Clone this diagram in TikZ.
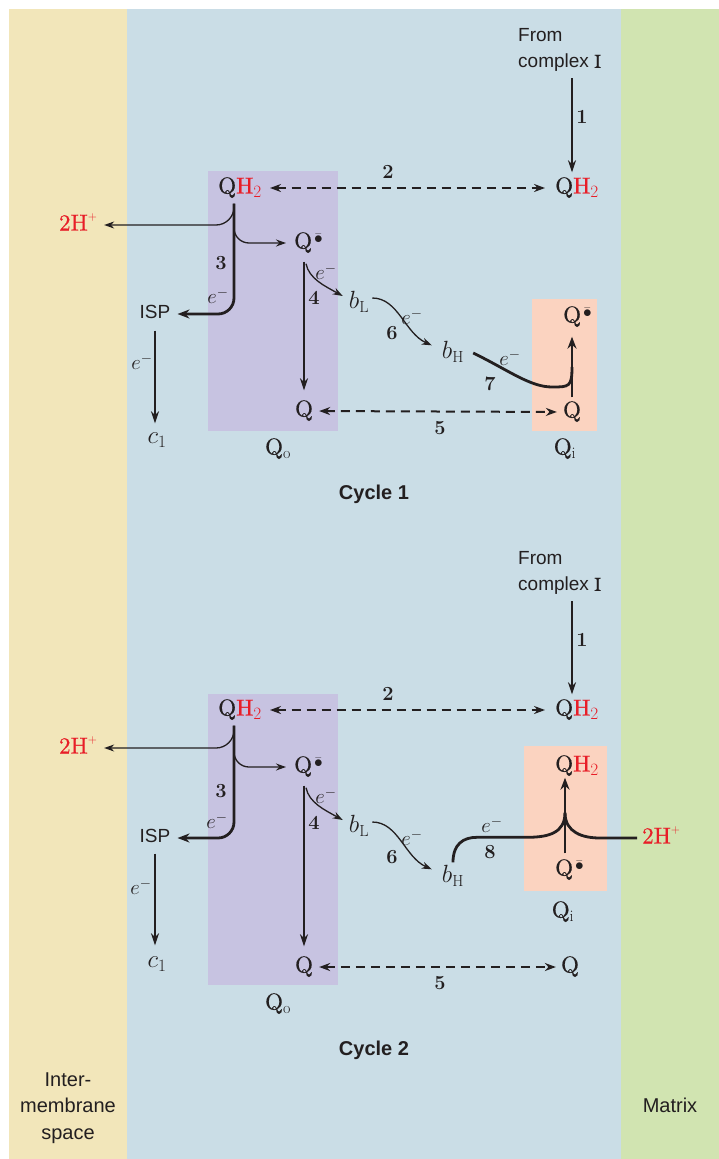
\documentclass[tikz,border=0pt]{standalone}
\usepackage{amsmath}
\usepackage{fontspec}
\setsansfont{Liberation Sans}
\newfontfamily\labfont{lmroman10-regular.otf}[FakeBold=0.5]
\usetikzlibrary{arrows.meta,calc}
\definecolor{ims}{RGB}{242,230,186}
\definecolor{mem}{RGB}{202,221,230}
\definecolor{mat}{RGB}{209,228,177}
\definecolor{qoc}{RGB}{199,195,225}
\definecolor{qic}{RGB}{251,211,192}
\definecolor{hred}{RGB}{232,30,40}
\definecolor{ink}{RGB}{35,31,32}
\newcommand\QHH{Q\textcolor{hred}{H$_2$}}
\newcommand\HHp{\textcolor{hred}{2H\raisebox{0.42em}{$\scriptscriptstyle+$}}}
\newcommand\Qsemi{Q\kern2pt\raisebox{0.2em}{$\scriptstyle\bar{\bullet}$}}
\newcommand\elec{$e^-$}
\begin{document}
\begin{tikzpicture}[x=1pt,y=-1pt,
  lab/.style={text=ink,inner sep=0pt,text height=16pt,text depth=5pt,font=\labfont\fontsize{23}{27}\selectfont},
  sanslab/.style={text=ink,inner sep=0pt,font=\sffamily\fontsize{19}{26}\selectfont,align=left},
  sidelab/.style={text=ink,inner sep=0pt,font=\sffamily\fontsize{20}{26.5}\selectfont,align=center},
  cyclab/.style={text=ink,inner sep=0pt,font=\sffamily\bfseries\fontsize{20}{24}\selectfont},
  numlab/.style={text=ink,inner sep=0pt,font=\bfseries\fontsize{20}{22}\selectfont},
  elab/.style={text=ink,inner sep=0pt,font=\fontsize{20}{22}\selectfont},
  arrthin/.style={draw=ink,line width=1.3pt,-{Stealth[length=10pt,width=7pt]}},
  arrmed/.style={draw=ink,line width=2pt,-{Stealth[length=12pt,width=8pt]}},
  arrthick/.style={draw=ink,line width=2.8pt,-{Stealth[length=12pt,width=9pt]}},
  thickline/.style={draw=ink,line width=2.8pt},
  dasharr/.style={draw=ink,line width=2pt,dash pattern=on 9pt off 6pt,{Stealth[length=11pt,width=8pt]}-{Stealth[length=11pt,width=8pt]}},
]
\useasboundingbox (0,0) rectangle (719,1159);
\fill[white] (0,0) rectangle (719,1159);
\fill[ims] (9,9) rectangle (127,1159);
\fill[mem] (127,9) rectangle (621,1159);
\fill[mat] (621,9) rectangle (719,1159);
\fill[qoc] (208,171) rectangle (338,431);
\fill[qic] (532,299) rectangle (597,431);
\fill[qoc] (208,694) rectangle (338,985);
\fill[qic] (524,746) rectangle (607,891);

% ---------------- Cycle 1 ----------------
\node[sanslab,anchor=south west] (fc1) at (518,72) {From\\complex {\labfont I}};
\node[lab] (qhr1) at (577,188) {\QHH};
\node[lab] (qhl1) at (240,188) {\QHH};
\node[lab] (hl1) at (78,225) {\HHp};
\node[lab,anchor=west] (qsl1) at (294,243) {\Qsemi};
\node[sanslab,text height=13pt,text depth=4pt] (isp1) at (155,314) {ISP};
\node[lab] (c11) at (157,438) {$c_1$};
\node[lab] (qo1) at (304,411) {Q};
\node[lab] (bl1) at (359,303) {$b_\mathrm{L}$};
\node[lab] (bh1) at (453,353) {$b_\mathrm{H}$};
\node[lab,anchor=west] (qsi1) at (563,317) {\Qsemi};
\node[lab] (qi1) at (572,412) {Q};
\node[lab] (lqo1) at (278,449) {Q$_\mathrm{o}$};
\node[lab] (lqi1) at (565,449) {Q$_\mathrm{i}$};
\node[numlab] (n11) at (582,117) {1};
\node[numlab] (n21) at (388,172) {2};
\node[numlab] (n31) at (221,263) {3};
\node[numlab] (n41) at (314,298) {4};
\node[numlab] (n51) at (440,428) {5};
\node[numlab] (n61) at (392,333) {6};
\node[numlab] (n71) at (490,384) {7};
\node[elab] (e31) at (218,296) {\elec};
\node[elab] (ec1) at (142,362) {\elec};
\node[elab] (e41) at (326,272) {\elec};
\node[elab] (e61) at (412,317) {\elec};
\node[elab] (e71) at (510,358) {\elec};
\node[cyclab] (cy1) at (374,494) {Cycle 1};

\coordinate (a11) at ([xshift=-5pt]qhr1.north);
\draw[arrmed,shorten <=6pt,shorten >=5pt] (a11 |- fc1.south) -- (a11);
\draw[dasharr,shorten <=8pt,shorten >=10pt] (qhl1.east) -- (qhr1.west);
\coordinate (s1) at ([xshift=-6pt,yshift=-5pt]qhl1.south);
\draw[arrthin,rounded corners=18pt,shorten >=7pt] (s1) |- (hl1.east);
\draw[arrthin,rounded corners=15pt,shorten >=8pt] ([yshift=-21pt]s1) |- (qsl1.west);
\draw[arrthick,rounded corners=16pt,shorten >=7pt] (s1) |- (isp1.east);
\draw[arrmed,shorten <=8pt,shorten >=4pt] (isp1.south) -- (isp1.south |- c11.north);
\coordinate (q41) at (qsl1.south -| qo1.north);
\draw[arrmed,shorten <=8pt,shorten >=10pt] (q41) -- (qo1.north);
\draw[arrthin] ([xshift=2pt,yshift=-10pt]q41) .. controls +(3,15) and +(-18,-10) .. ([xshift=-6pt,yshift=7pt]bl1.west);
\draw[arrthin] ([xshift=3pt,yshift=5pt]bl1.east) .. controls +(26,0) and +(-27,-12) .. ([xshift=-10pt,yshift=-3pt]bh1.north west);
\draw[arrthick,shorten <=4pt,shorten >=9pt] (qi1.north) -- (qi1.north |- qsi1.south);
\draw[thickline] ([xshift=9pt]bh1.east) .. controls +(35,17) and +(-22,0) .. ($(qi1.center)+(-20,-25)$) .. controls +(17,0) and +(0,20) .. ($(qi1.center)+(0,-45)$);
\draw[dasharr,shorten <=6pt,shorten >=6pt] (qo1.east) -- (qi1.west);

% ---------------- Cycle 2 ----------------
\node[sanslab,anchor=south west] (fc2) at (518,595) {From\\complex {\labfont I}};
\node[lab] (qhr2) at (577,710) {\QHH};
\node[lab] (qhl2) at (240,710) {\QHH};
\node[lab] (hl2) at (78,748) {\HHp};
\node[lab,anchor=west] (qsl2) at (294,767) {\Qsemi};
\node[sanslab,text height=13pt,text depth=4pt] (isp2) at (155,838) {ISP};
\node[lab] (c12) at (157,962) {$c_1$};
\node[lab] (qo2) at (304,967) {Q};
\node[lab] (bl2) at (359,827) {$b_\mathrm{L}$};
\node[lab] (bh2) at (453,877) {$b_\mathrm{H}$};
\node[lab] (qhi2) at (577,766) {\QHH};
\node[lab,anchor=west] (qsi2) at (555,870) {\Qsemi};
\node[lab,anchor=west] (hr2) at (642,838) {\HHp};
\node[lab] (qr2) at (570,967) {Q};
\node[lab] (lqo2) at (278,1004) {Q$_\mathrm{o}$};
\node[lab] (lqi2) at (563,912) {Q$_\mathrm{i}$};
\node[numlab] (n12) at (582,640) {1};
\node[numlab] (n22) at (388,694) {2};
\node[numlab] (n32) at (221,791) {3};
\node[numlab] (n42) at (314,823) {4};
\node[numlab] (n52) at (440,983) {5};
\node[numlab] (n62) at (392,857) {6};
\node[numlab] (n82) at (490,852) {8};
\node[elab] (e32) at (217,821) {\elec};
\node[elab] (ec2) at (141,887) {\elec};
\node[elab] (e42) at (326,796) {\elec};
\node[elab] (e62) at (412,838) {\elec};
\node[elab] (e82) at (492,825) {\elec};
\node[cyclab] (cy2) at (374,1050) {Cycle 2};

\coordinate (a12) at ([xshift=-5pt]qhr2.north);
\draw[arrmed,shorten <=6pt,shorten >=5pt] (a12 |- fc2.south) -- (a12);
\draw[dasharr,shorten <=8pt,shorten >=10pt] (qhl2.east) -- (qhr2.west);
\coordinate (s2) at ([xshift=-6pt,yshift=-5pt]qhl2.south);
\draw[arrthin,rounded corners=18pt,shorten >=7pt] (s2) |- (hl2.east);
\draw[arrthin,rounded corners=15pt,shorten >=8pt] ([yshift=-23pt]s2) |- (qsl2.west);
\draw[arrthick,rounded corners=16pt,shorten >=7pt] (s2) |- (isp2.east);
\draw[arrmed,shorten <=7pt,shorten >=6pt] (isp2.south) -- (isp2.south |- c12.north);
\coordinate (q42) at (qsl2.south -| qo2.north);
\draw[arrmed,shorten <=8pt,shorten >=10pt] (q42) -- (qo2.north);
\draw[arrthin] ([xshift=2pt,yshift=-10pt]q42) .. controls +(3,15) and +(-18,-10) .. ([xshift=-6pt,yshift=7pt]bl2.west);
\draw[arrthin] ([xshift=3pt,yshift=5pt]bl2.east) .. controls +(26,0) and +(-27,-12) .. ([xshift=-10pt,yshift=-3pt]bh2.north west);
\coordinate (v2) at ([xshift=-12pt]qhi2.south);
\coordinate (j2) at ([yshift=-36pt]v2);
\draw[arrthick,shorten <=6pt,shorten >=1pt] (v2 |- qsi2.north) -- (v2);
\draw[thickline] ([yshift=4pt]bh2.north) .. controls +(0,-18) and +(-14,0) .. ++(24,-25) -- ++(50,0) .. controls +(22,0) and +(0,20) .. (j2);
\draw[thickline] ([xshift=-5pt]hr2.west) -- ++(-37,0) .. controls +(-17,0) and +(0,20) .. (j2);
\draw[dasharr,shorten <=6pt,shorten >=5pt] (qo2.east) -- (qr2.west);

% ---------------- side labels ----------------
\node[sidelab] (ims) at (68,1108) {Inter-\\membrane\\space};
\node[sidelab] (mat) at (670,1105) {Matrix};
\end{tikzpicture}
\end{document}
